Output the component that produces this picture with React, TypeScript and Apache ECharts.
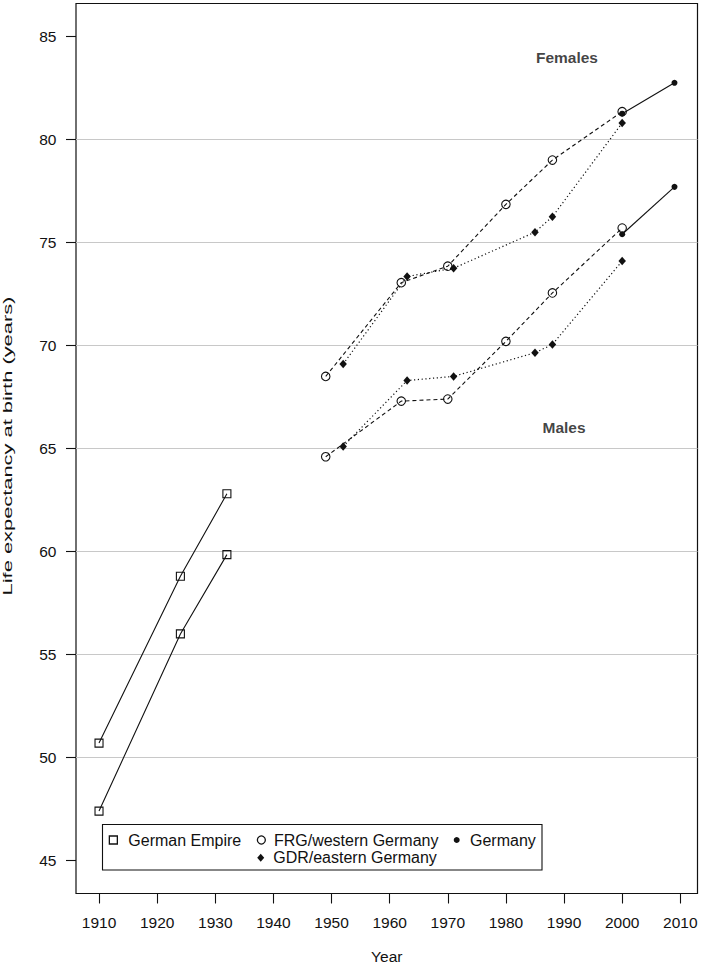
import React, { useEffect, useRef } from "react";
import * as echarts from "echarts";

// ---- data ----
const empireYears = [1910, 1924, 1932];
const empireFemales = [50.7, 58.8, 62.8];
const empireMales = [47.4, 56.0, 59.85];

const frgYears = [1949, 1962, 1970, 1980, 1988, 2000];
const frgFemales = [68.5, 73.05, 73.85, 76.85, 79.0, 81.35];
const frgMales = [64.6, 67.3, 67.4, 70.2, 72.55, 75.7];

const gdrYears = [1952, 1963, 1971, 1985, 1988, 2000];
const gdrFemales = [69.1, 73.35, 73.75, 75.5, 76.25, 80.8];
const gdrMales = [65.1, 68.3, 68.5, 69.65, 70.05, 74.1];

const germanyYears = [2000, 2009];
const germanyFemales = [81.25, 82.75];
const germanyMales = [75.4, 77.7];

const yearTicks = [1910, 1920, 1930, 1940, 1950, 1960, 1970, 1980, 1990, 2000, 2010];
const lifeTicks = [45, 50, 55, 60, 65, 70, 75, 80, 85];
const gridValues = [50, 55, 60, 65, 70, 75, 80];

const annotationYears = [1990.5, 1990];
const annotationValues = [84, 66];
const annotationTexts = ["Females", "Males"];

// ---- styles ----
const INK = "#111111";
const FONT = "'Liberation Sans', Arial, Helvetica, sans-serif";
const CLEAR = "rgba(0,0,0,0)";

const pts = (xs: number[], ys: number[]) => xs.map((x, i) => [x, ys[i]]);

const empireStyle = {
  symbol: "rect",
  symbolSize: 8,
  itemStyle: { color: CLEAR, borderColor: INK, borderWidth: 1.1 },
  lineStyle: { color: INK, width: 1.1, type: "solid" },
};
const frgStyle = {
  symbol: "circle",
  symbolSize: 8.5,
  itemStyle: { color: CLEAR, borderColor: INK, borderWidth: 1.1 },
  lineStyle: { color: INK, width: 1.1, type: [4, 3] },
};
const gdrStyle = {
  symbol: "diamond",
  symbolSize: [7.5, 8.5],
  itemStyle: { color: INK, borderWidth: 0 },
  lineStyle: { color: INK, width: 1.2, type: [1.2, 2.6] },
};
const germanyStyle = {
  symbol: "circle",
  symbolSize: 6,
  itemStyle: { color: INK, borderWidth: 0 },
  lineStyle: { color: INK, width: 1.1, type: "solid" },
};

function lineSeries(name: string, data: number[][], style: any, extra: any = {}) {
  return {
    type: "line",
    name,
    data,
    showSymbol: true,
    showAllSymbol: true,
    ...style,
    emphasis: { disabled: true },
    ...extra,
  };
}

function legendOf(name: string, left: number, top: number, icon: string, w: number, h: number, itemStyle: any, pad: number) {
  return {
    show: true,
    orient: "horizontal",
    left,
    top,
    padding: 0,
    itemGap: 0,
    itemWidth: w,
    itemHeight: h,
    selectedMode: false,
    data: [{ name, icon, itemStyle }],
    textStyle: {
      fontFamily: FONT,
      fontSize: 16,
      color: INK,
      lineHeight: 16,
      padding: [0, 0, 0, pad],
    },
  };
}

export default function App() {
  const ref = useRef<HTMLDivElement>(null);

  useEffect(() => {
    if (!ref.current) return;
    const chart = echarts.init(ref.current, undefined, { renderer: "svg" });

    const option: any = {
      animation: false,
      backgroundColor: "#ffffff",
      textStyle: { fontFamily: FONT },
      grid: {
        left: 76,
        top: 3.5,
        right: 4.5,
        bottom: 77.5,
        show: true,
        borderColor: INK,
        borderWidth: 1.2,
        backgroundColor: CLEAR,
      },
      xAxis: {
        type: "value",
        min: 1906.04,
        max: 2012.96,
        axisLine: { show: false, onZero: false },
        axisTick: {
          show: true,
          length: 10,
          customValues: yearTicks,
          lineStyle: { color: INK, width: 1.1 },
        },
        axisLabel: {
          show: true,
          customValues: yearTicks,
          margin: 21,
          fontSize: 15.5,
          color: INK,
          fontFamily: FONT,
          formatter: (v: number) => String(v),
        },
        splitLine: { show: false },
        name: "Year",
        nameLocation: "middle",
        nameGap: 55,
        nameTextStyle: { fontSize: 15.5, color: INK, fontFamily: FONT },
      },
      yAxis: {
        type: "value",
        min: 43.4,
        max: 86.6,
        axisLine: { show: false, onZero: false },
        axisTick: {
          show: true,
          length: 10,
          customValues: lifeTicks,
          lineStyle: { color: INK, width: 1.1 },
        },
        axisLabel: {
          show: true,
          customValues: lifeTicks,
          margin: 19.5,
          fontSize: 15.5,
          color: INK,
          fontFamily: FONT,
          formatter: (v: number) => String(v),
        },
        splitLine: { show: false },
      },
      legend: [
        legendOf("German Empire", 108.7, 832, "rect", 8, 8,
          { color: CLEAR, borderColor: INK, borderWidth: 1.3 }, 6),
        legendOf("FRG/western Germany", 256.7, 832, "circle", 8, 8,
          { color: CLEAR, borderColor: INK, borderWidth: 1.3 }, 3.6),
        legendOf("Germany", 453.7, 832, "circle", 6, 6,
          { color: INK, borderWidth: 0 }, 5.3),
        legendOf("GDR/eastern Germany", 257.2, 849.7, "diamond", 7, 8,
          { color: INK, borderWidth: 0 }, 4),
      ],
      graphic: [
        {
          type: "rect",
          shape: { x: 102.5, y: 824.5, width: 439.5, height: 45.5 },
          style: { fill: "none", stroke: INK, lineWidth: 1.1 },
          silent: true,
        },
        {
          type: "text",
          x: 8,
          y: 446,
          rotation: Math.PI / 2,
          scaleX: 1.75,
          scaleY: 1,
          style: {
            text: "Life expectancy at birth (years)",
            font: `12.5px ${FONT}`,
            fill: INK,
            textAlign: "center",
            textVerticalAlign: "middle",
          },
          silent: true,
        },
      ],
      series: [
        lineSeries("German Empire", pts(empireYears, empireFemales), empireStyle, {
          markLine: {
            silent: true,
            z: 1,
            symbol: ["none", "none"],
            label: { show: false },
            lineStyle: { color: "#c8c8c8", width: 1, type: "solid" },
            emphasis: { disabled: true },
            data: gridValues.map((v) => ({ yAxis: v })),
          },
        }),
        lineSeries("German Empire", pts(empireYears, empireMales), empireStyle),
        lineSeries("FRG/western Germany", pts(frgYears, frgFemales), frgStyle),
        lineSeries("FRG/western Germany", pts(frgYears, frgMales), frgStyle),
        lineSeries("GDR/eastern Germany", pts(gdrYears, gdrFemales), gdrStyle),
        lineSeries("GDR/eastern Germany", pts(gdrYears, gdrMales), gdrStyle),
        lineSeries("Germany", pts(germanyYears, germanyFemales), germanyStyle),
        lineSeries("Germany", pts(germanyYears, germanyMales), germanyStyle),
        {
          type: "scatter",
          name: "annotations",
          symbolSize: 1,
          itemStyle: { color: CLEAR },
          data: annotationYears.map((y, i) => [y, annotationValues[i], annotationTexts[i]]),
          label: {
            show: true,
            position: "inside",
            formatter: (p: any) => p.data[2],
            fontFamily: FONT,
            fontSize: 15.5,
            fontWeight: "bold",
            color: INK,
          },
          emphasis: { disabled: true },
          silent: true,
        },
      ],
    };

    chart.setOption(option);
    return () => chart.dispose();
  }, []);

  return (
    <div
      ref={ref}
      style={{ position: "fixed", left: 0, top: 0, width: 702, height: 971, background: "#fff" }}
    />
  );
}
